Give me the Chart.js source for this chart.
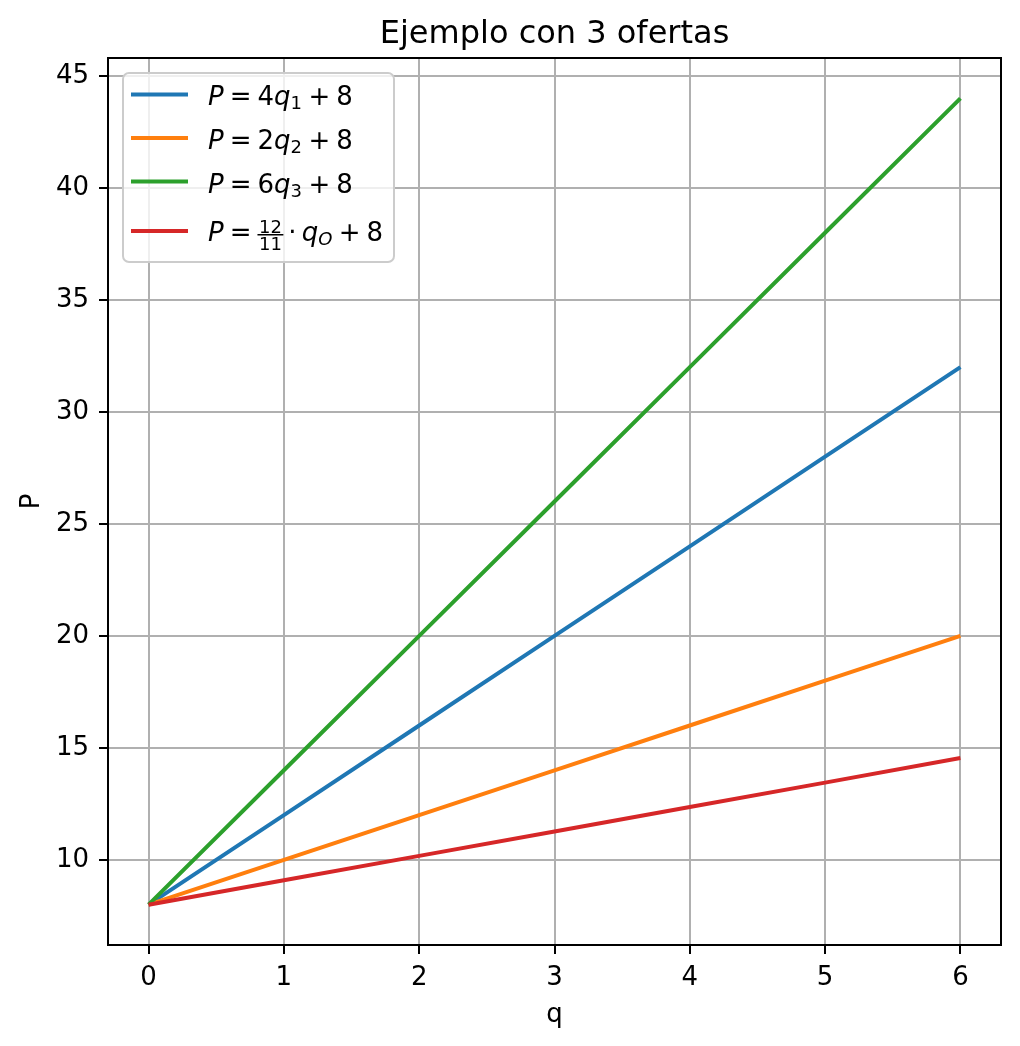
<!DOCTYPE html>
<html>
<head>
<meta charset="utf-8">
<script src="https://cdn.jsdelivr.net/npm/chart.js@4.4.1/dist/chart.umd.min.js"></script>
<style>
  body { margin: 0; background: #fff; }
  canvas { display: block; }
</style>
</head>
<body>
<canvas id="chart" width="1020" height="1046"></canvas>
<script>
// data
const qValues = [0, 1, 2, 3, 4, 5, 6];
const p1 = [8, 12, 16, 20, 24, 28, 32];
const p2 = [8, 10, 12, 14, 16, 18, 20];
const p3 = [8, 14, 20, 26, 32, 38, 44];
const pO = [8, 9.09, 10.18, 11.27, 12.36, 13.45, 14.55];
const xTicks = [0, 1, 2, 3, 4, 5, 6];
const yTicks = [10, 15, 20, 25, 30, 35, 40, 45];

const colors = ['#1f77b4', '#ff7f0e', '#2ca02c', '#d62728'];
const FONT = '"DejaVu Sans", sans-serif';

function pts(ys) {
  return qValues.map((q, i) => ({ x: q, y: ys[i] }));
}

function lineSet(ys, color, order) {
  return {
    data: pts(ys),
    borderColor: color,
    backgroundColor: color,
    borderWidth: 4,
    pointRadius: 0,
    tension: 0,
    order: order
  };
}

// draws a small piece of "math" text, token by token
function drawMath(ctx, x, y, tokens) {
  ctx.textBaseline = 'alphabetic';
  ctx.textAlign = 'left';
  ctx.fillStyle = '#000';
  for (const tk of tokens) {
    if (tk.gap) { x += tk.gap; continue; }
    if (tk.frac) {
      ctx.font = '18px ' + FONT;
      const wn = ctx.measureText(tk.frac[0]).width;
      const wd = ctx.measureText(tk.frac[1]).width;
      const w = Math.max(wn, wd) + 3;
      ctx.fillText(tk.frac[0], x + (w - wn) / 2, y - 8);
      ctx.fillText(tk.frac[1], x + (w - wd) / 2, y + 9.5);
      ctx.fillRect(x, y - 6.5, w, 1.5);
      x += w;
      continue;
    }
    const size = tk.sub ? 18 : 26;
    ctx.font = (tk.it ? 'italic ' : '') + size + 'px ' + FONT;
    ctx.fillText(tk.t, x, y + (tk.sub ? 4 : 0));
    x += ctx.measureText(tk.t).width;
  }
}

function simpleEq(k, n) {
  return [
    { t: 'P', it: true }, { gap: 6 }, { t: '=' }, { gap: 6 },
    { t: k }, { t: 'q', it: true }, { t: n, sub: true },
    { gap: 6.5 }, { t: '+' }, { gap: 6 }, { t: '8' }
  ];
}

const legendRows = [
  { color: colors[0], lineY: 94.5, base: 105, tokens: simpleEq('4', '1') },
  { color: colors[1], lineY: 138, base: 149, tokens: simpleEq('2', '2') },
  { color: colors[2], lineY: 181.5, base: 193, tokens: simpleEq('6', '3') },
  { color: colors[3], lineY: 231, base: 240.5, tokens: [
    { t: 'P', it: true }, { gap: 6 }, { t: '=' }, { gap: 6 },
    { frac: ['12', '11'] }, { gap: 5 }, { t: '\u00b7' }, { gap: 5 },
    { t: 'q', it: true }, { t: 'O', it: true, sub: true },
    { gap: 6.5 }, { t: '+' }, { gap: 6 }, { t: '8' }
  ] }
];

const framePlugin = {
  id: 'frame',
  afterDraw(chart) {
    const ctx = chart.ctx;
    const a = chart.chartArea;
    ctx.save();
    ctx.strokeStyle = '#000';
    ctx.lineWidth = 2;
    ctx.strokeRect(a.left, a.top, a.right - a.left, a.bottom - a.top);

    // legend box
    const bx = 123, by = 73, bw = 271, bh = 189, r = 6;
    ctx.beginPath();
    ctx.roundRect(bx, by, bw, bh, r);
    ctx.fillStyle = 'rgba(255,255,255,0.8)';
    ctx.fill();
    ctx.strokeStyle = '#cccccc';
    ctx.lineWidth = 2;
    ctx.stroke();

    for (const row of legendRows) {
      ctx.beginPath();
      ctx.strokeStyle = row.color;
      ctx.lineWidth = 4;
      ctx.moveTo(131, row.lineY);
      ctx.lineTo(188, row.lineY);
      ctx.stroke();
      drawMath(ctx, 208, row.base, row.tokens);
    }
    ctx.restore();
  }
};

const tickFont = { family: FONT, size: 26, weight: 'normal' };

new Chart(document.getElementById('chart'), {
  type: 'line',
  data: {
    datasets: [
      lineSet(p1, colors[0], 3),
      lineSet(p2, colors[1], 2),
      lineSet(p3, colors[2], 1),
      lineSet(pO, colors[3], 0)
    ]
  },
  options: {
    responsive: false,
    animation: false,
    devicePixelRatio: 1,
    layout: { padding: { left: 0, right: 19, top: 0, bottom: 0 } },
    plugins: {
      legend: { display: false },
      tooltip: { enabled: false },
      title: {
        display: true,
        text: 'Ejemplo con 3 ofertas',
        fullSize: false,
        color: '#000',
        font: { family: FONT, size: 32, weight: 'normal' },
        padding: { top: 15, bottom: 4.6 }
      }
    },
    scales: {
      x: {
        type: 'linear',
        bounds: 'data',
        min: -0.3,
        max: 6.3,
        afterBuildTicks: s => { s.ticks = xTicks.map(v => ({ value: v })); },
        afterFit: s => { s.height = 101; },
        grid: { color: '#b0b0b0', lineWidth: 2, tickColor: '#000', tickLength: 9, tickWidth: 2 },
        border: { color: '#000', width: 2 },
        ticks: { color: '#000', font: tickFont, padding: 9, maxRotation: 0, autoSkip: false },
        title: { display: true, text: 'q', color: '#000', font: tickFont, padding: { top: 0, bottom: 15 } }
      },
      y: {
        type: 'linear',
        bounds: 'data',
        min: 6.2,
        max: 45.8,
        afterBuildTicks: s => { s.ticks = yTicks.map(v => ({ value: v })); },
        afterFit: s => { s.width = 108; },
        grid: { color: '#b0b0b0', lineWidth: 2, tickColor: '#000', tickLength: 9, tickWidth: 2 },
        border: { color: '#000', width: 2 },
        ticks: { color: '#000', font: tickFont, padding: 10, autoSkip: false },
        title: { display: true, text: 'P', color: '#000', font: tickFont, padding: { top: 17, bottom: 0 } }
      }
    }
  },
  plugins: [framePlugin]
});
</script>
</body>
</html>
